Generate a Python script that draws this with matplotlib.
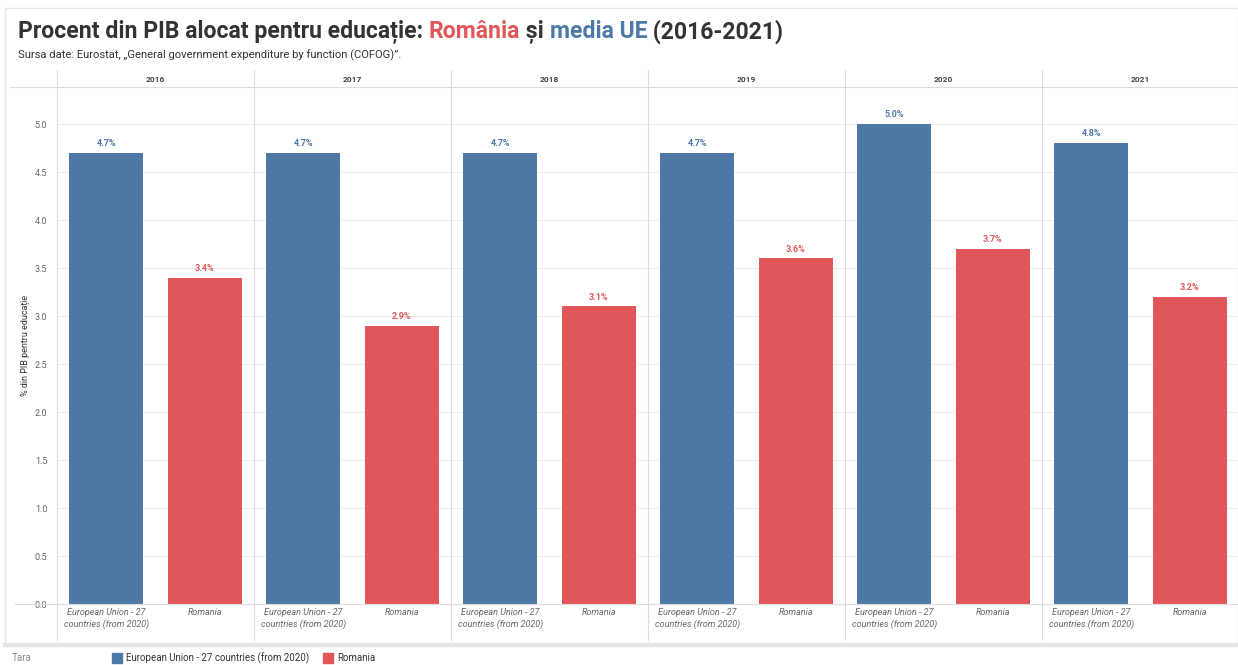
import matplotlib.pyplot as plt
from matplotlib.lines import Line2D
from matplotlib.patches import Rectangle

years = ['2016', '2017', '2018', '2019', '2020', '2021']
eu_values = [4.7, 4.7, 4.7, 4.7, 5.0, 4.8]
ro_values = [3.4, 2.9, 3.1, 3.6, 3.7, 3.2]
categories = ['European Union - 27\ncountries (from 2020)', 'Romania']
legend_labels = ['European Union - 27 countries (from 2020)', 'Romania']
yticks = [0.0, 0.5, 1.0, 1.5, 2.0, 2.5, 3.0, 3.5, 4.0, 4.5, 5.0]

blue = '#4e79a7'
red = '#e15759'
grey_txt = '#666666'
line_c = '#dcdcdc'

W, H = 1238, 665
fig = plt.figure(figsize=(W / 100, H / 100), dpi=100)
plt.rcParams['font.family'] = ['Roboto', 'DejaVu Sans']


def fx(px):
    return px / W


def fy(py):
    return 1 - py / H


# layout in pixels
left, right = 57, 1239
top, bottom = 87, 604
ax = fig.add_axes([fx(left), fy(bottom), fx(right - left), fy(top) - fy(bottom)])

n = len(years)
xs_eu = [2 * i for i in range(n)]
xs_ro = [2 * i + 1 for i in range(n)]
ax.bar(xs_eu, eu_values, width=0.75, color=blue, zorder=2)
ax.bar(xs_ro, ro_values, width=0.75, color=red, zorder=2)

for x, v in zip(xs_eu, eu_values):
    ax.text(x, v + 0.05, f'{v:.1f}%', ha='center', va='bottom', fontsize=6.5,
            color=blue, fontweight='bold')
for x, v in zip(xs_ro, ro_values):
    ax.text(x, v + 0.05, f'{v:.1f}%', ha='center', va='bottom', fontsize=6.5,
            color=red, fontweight='bold')

ax.set_xlim(-0.5, 2 * n - 0.5)
ax.set_ylim(0, (bottom - top) / 96)
ax.set_yticks(yticks)
ax.set_yticklabels([f'{t:.1f}' for t in yticks], fontsize=6.5, color=grey_txt)
ax.tick_params(axis='y', length=0, pad=7)
ax.set_xticks([])
for s in ax.spines.values():
    s.set_visible(False)
ax.grid(axis='y', color='#f0f0f0', linewidth=0.8, zorder=0)
ax.set_ylabel('% din PIB pentru educație', fontsize=6.5, color='#333333', labelpad=3)

# category labels under the bars
for i in range(n):
    for j, cat in enumerate(categories):
        ax.text(2 * i + j, -0.04, cat, ha='center', va='top', fontsize=6.5,
                color=grey_txt, style='italic', linespacing=1.4)

# panel headers and separators
pw = (right - left) / n
for i, y in enumerate(years):
    fig.text(fx(left + pw * (i + 0.5)), fy(79), y, ha='center', va='center',
             fontsize=6, color='#444444', fontweight='bold')
for i in range(n + 1):
    xx = fx(left + pw * i)
    fig.add_artist(Line2D([xx, xx], [fy(70), fy(640)], color=line_c, lw=0.8))

# header and axis lines
fig.add_artist(Line2D([fx(10), fx(W)], [fy(top), fy(top)], color=line_c, lw=0.8))
fig.add_artist(Line2D([fx(15), fx(W)], [fy(bottom), fy(bottom)], color=line_c, lw=0.8))

# frame of the dashboard
fig.add_artist(Rectangle((fx(5), fy(646)), fx(W - 5), fy(8) - fy(646), fill=False,
                         edgecolor='#e6e6e6', lw=1))
fig.add_artist(Line2D([fx(5), fx(W)], [fy(645), fy(645)], color='#e6e6e6', lw=3))

# title
title_parts = [('Procent din PIB alocat pentru educație: ', '#333333'),
               ('România', red), (' și ', '#333333'), ('media UE', blue),
               (' (2016-2021)', '#333333')]
renderer = fig.canvas.get_renderer()
xpos = fx(18)
for txt, col in title_parts:
    t = fig.text(xpos, fy(32), txt, fontsize=16.6, fontweight='bold', color=col,
                 va='center', ha='left')
    bb = t.get_window_extent(renderer=renderer)
    xpos += bb.width / W

fig.text(fx(18), fy(55), 'Sursa date: Eurostat, „General government expenditure by function (COFOG)”.',
         fontsize=8.1, color='#333333', va='center', ha='left')

# legend strip
fig.text(fx(12), fy(658), 'Tara', fontsize=7, color='#888888', va='center')
lx = 112
for lab, col in zip(legend_labels, [blue, red]):
    fig.add_artist(Rectangle((fx(lx), fy(663)), fx(10), fy(653) - fy(663), color=col))
    t = fig.text(fx(lx + 14), fy(658), lab, fontsize=7, color='#333333', va='center')
    bb = t.get_window_extent(renderer=renderer)
    lx = lx + 14 + bb.width + 14

fig.savefig('out.png', dpi=100)
